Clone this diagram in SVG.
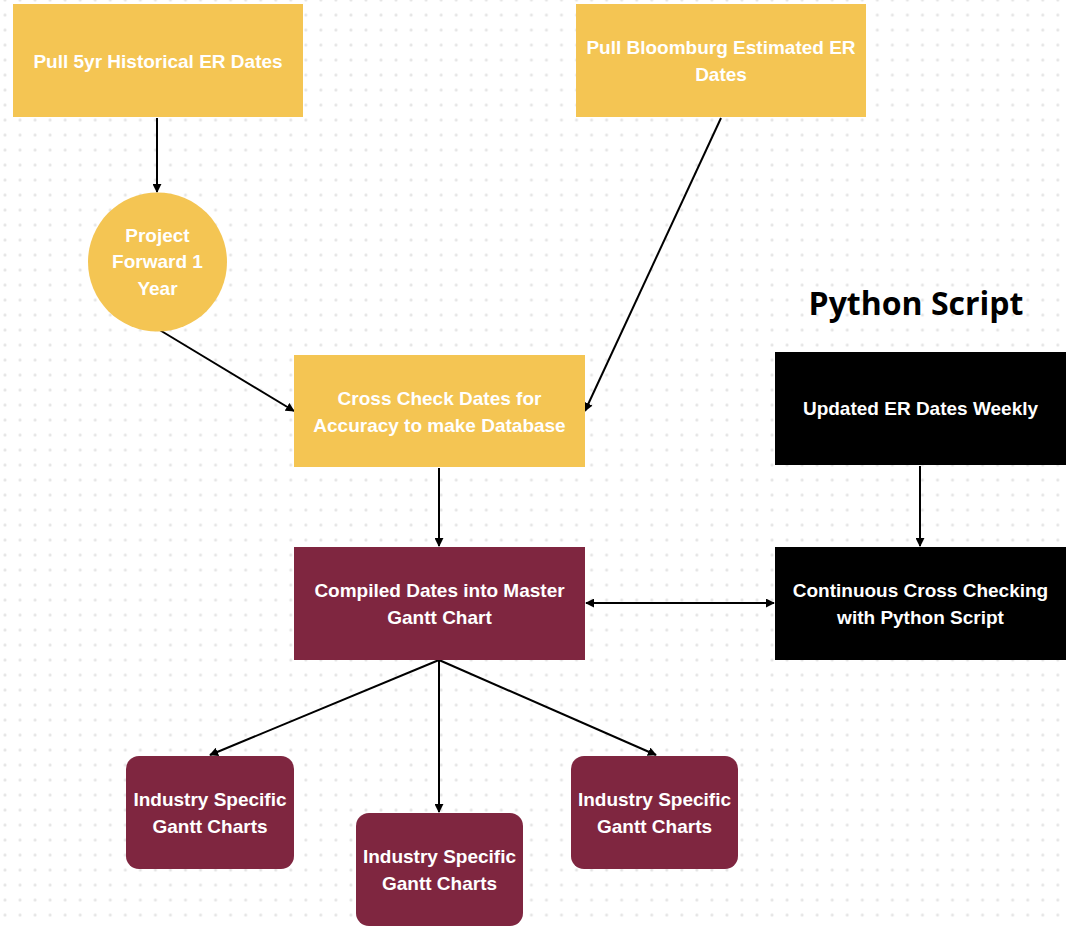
<svg xmlns="http://www.w3.org/2000/svg" width="1066" height="928" viewBox="0 0 1066 928">
<defs>
<pattern id="dots" patternUnits="userSpaceOnUse" x="-2.5" y="-7.5" width="15.04" height="15">
<circle cx="7.5" cy="7.5" r="1.5" fill="#e4e4e4"/>
</pattern>
<marker id="ah" viewBox="0 0 10 10" refX="9" refY="5" markerWidth="9" markerHeight="9" markerUnits="userSpaceOnUse" orient="auto-start-reverse">
<path d="M0,0 L10,5 L0,10 z" fill="#000"/>
</marker>
<style>
.y{fill:#f4c553}
.m{fill:#7f2640}
.k{fill:#000}
.t{font-family:"Liberation Sans",Arial,sans-serif;font-weight:bold;font-size:19px;fill:#fff;text-anchor:middle}
.c{stroke:#000;stroke-width:2;fill:none;marker-end:url(#ah)}
</style>
</defs>
<rect width="1066" height="928" fill="#fff"/>
<rect width="1066" height="928" fill="url(#dots)"/>

<g id="connectors">
<line class="c" x1="157" y1="118" x2="157" y2="192"/>
<line class="c" x1="721" y1="118" x2="585" y2="411"/>
<line class="c" x1="158" y1="329" x2="294" y2="411"/>
<line class="c" x1="439" y1="468" x2="439" y2="546"/>
<line class="c" x1="586" y1="603" x2="774" y2="603" style="marker-start:url(#ah)"/>
<line class="c" x1="920" y1="466" x2="920" y2="546"/>
<line class="c" x1="439" y1="660" x2="210" y2="755"/>
<line class="c" x1="439" y1="660" x2="439" y2="812"/>
<line class="c" x1="439" y1="660" x2="656" y2="755"/>
</g>

<g id="n1"><rect class="y" x="13" y="4" width="290" height="113"/>
<text class="t" x="158" y="67.5">Pull 5yr Historical ER Dates</text></g>

<g id="n2"><rect class="y" x="576" y="4" width="290" height="113"/>
<text class="t" x="721" y="53.5">Pull Bloomburg Estimated ER</text>
<text class="t" x="721" y="80.5">Dates</text></g>

<g id="n3"><circle class="y" cx="157.5" cy="262" r="69.5"/>
<text class="t" x="157.5" y="241.5">Project</text>
<text class="t" x="157.5" y="268">Forward 1</text>
<text class="t" x="157.5" y="294.5">Year</text></g>

<g id="n4"><rect class="y" x="294" y="355" width="291" height="112"/>
<text class="t" x="439.5" y="404.5">Cross Check Dates for</text>
<text class="t" x="439.5" y="431.5">Accuracy to make Database</text></g>

<g id="n5"><rect class="m" x="294" y="547" width="291" height="113"/>
<text class="t" x="439.5" y="596.5">Compiled Dates into Master</text>
<text class="t" x="439.5" y="623.5">Gantt Chart</text></g>

<g id="title"><text x="916" y="315" font-family="'Open Sans',sans-serif" font-weight="bold" font-size="32" text-anchor="middle" fill="#000">Python Script</text></g>

<g id="n6"><rect class="k" x="775" y="352" width="291" height="113"/>
<text class="t" x="920.5" y="414.5">Updated ER Dates Weekly</text></g>

<g id="n7"><rect class="k" x="775" y="547" width="291" height="113"/>
<text class="t" x="920.5" y="596.5">Continuous Cross Checking</text>
<text class="t" x="920.5" y="623.5">with Python Script</text></g>

<g id="n8"><rect class="m" x="126" y="756" width="168" height="113" rx="13"/>
<text class="t" x="210" y="805.5">Industry Specific</text>
<text class="t" x="210" y="832.5">Gantt Charts</text></g>

<g id="n9"><rect class="m" x="356" y="813" width="167" height="113" rx="13"/>
<text class="t" x="439.5" y="862.5">Industry Specific</text>
<text class="t" x="439.5" y="889.5">Gantt Charts</text></g>

<g id="n10"><rect class="m" x="571" y="756" width="167" height="113" rx="13"/>
<text class="t" x="654.5" y="805.5">Industry Specific</text>
<text class="t" x="654.5" y="832.5">Gantt Charts</text></g>
</svg>
